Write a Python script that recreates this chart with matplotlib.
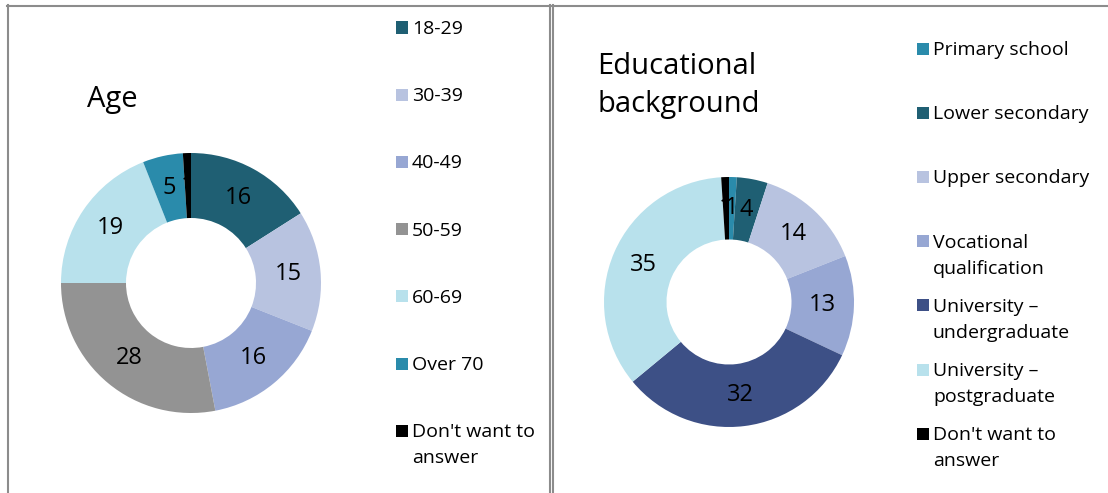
import matplotlib
matplotlib.use("Agg")
import matplotlib.pyplot as plt
from matplotlib.lines import Line2D
from matplotlib.patches import Rectangle
import numpy as np

plt.rcParams['font.family'] = ['Open Sans', 'DejaVu Sans']

# ---- data ----
age_labels = ["18-29", "30-39", "40-49", "50-59", "60-69", "Over 70", "Don't want to\nanswer"]
age_values = [16, 15, 16, 28, 19, 5, 1]
age_colors = ["#1F5F73", "#B8C3E0", "#97A7D3", "#939393", "#B8E1EC", "#2A8BAB", "#000000"]

edu_labels = ["Primary school", "Lower secondary", "Upper secondary",
              "Vocational\nqualification", "University \u2013\nundergraduate",
              "University \u2013\npostgraduate", "Don't want to\nanswer"]
edu_values = [1, 4, 14, 13, 32, 35, 1]
edu_colors = ["#2A8BAB", "#1F5F73", "#B8C3E0", "#97A7D3", "#3D5086", "#B8E1EC", "#000000"]

W, H = 1108, 493
fig = plt.figure(figsize=(W / 100, H / 100), dpi=100)
fig.patch.set_facecolor("white")


def fx(x):
    return x / W


def fy(y):
    return 1 - y / H


def donut(cx, cy, r, values, colors):
    ax = fig.add_axes([fx(cx - r), fy(cy + r), 2 * r / W, 2 * r / H])
    wedges, _ = ax.pie(values, colors=colors, startangle=90, counterclock=False,
                       radius=1.0, wedgeprops=dict(width=0.5, linewidth=0))
    for w, v in zip(wedges, values):
        ang = np.deg2rad((w.theta1 + w.theta2) / 2)
        ax.text(0.75 * np.cos(ang), 0.75 * np.sin(ang), str(v), ha="center",
                va="center", fontsize=17, color="black")
    ax.set_xlim(-1, 1)
    ax.set_ylim(-1, 1)
    ax.set_aspect("equal")
    ax.axis("off")
    return ax


donut(191, 283, 130, age_values, age_colors)
donut(729, 302, 125, edu_values, edu_colors)


def legend(x0, y_first, spacing, labels, colors):
    for i, (lab, col) in enumerate(zip(labels, colors)):
        yc = y_first + i * spacing
        fig.add_artist(Rectangle((fx(x0), fy(yc + 6)), 12 / W, 12 / H,
                                 transform=fig.transFigure, facecolor=col,
                                 edgecolor="none"))
        for j, line in enumerate(lab.split("\n")):
            fig.text(fx(x0 + 16), fy(yc + 6.5 + 26 * j), line, fontsize=14,
                     ha="left", va="baseline", color="black")


legend(396, 27.5, 67.2, age_labels, age_colors)
legend(917, 48.5, 64.2, edu_labels, edu_colors)

fig.text(fx(87), fy(107), "Age", fontsize=21, ha="left", va="baseline")
fig.text(fx(597), fy(74), "Educational", fontsize=21, ha="left", va="baseline")
fig.text(fx(597), fy(112), "background", fontsize=21, ha="left", va="baseline")

# panel borders
bc = "#8C8C8C"
for xs, ys in [((7, 550), (5.5, 5.5)), ((7.5, 7.5), (5, 493)),
               ((549.5, 549.5), (5, 493)), ((552.5, 552.5), (5, 493)),
               ((552, 1108), (5.5, 5.5))]:
    fig.add_artist(Line2D([fx(xs[0]), fx(xs[1])], [fy(ys[0]), fy(ys[1])],
                          transform=fig.transFigure, color=bc, linewidth=1.5))

fig.savefig("out.png", dpi=100, facecolor="white")
